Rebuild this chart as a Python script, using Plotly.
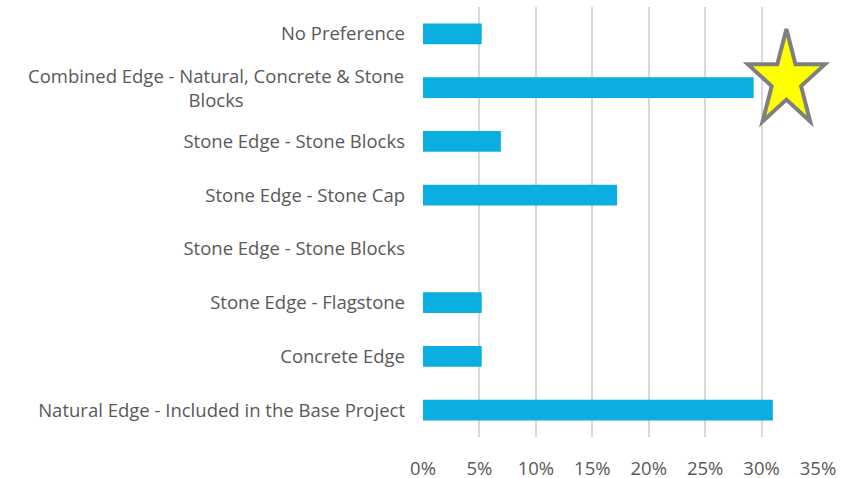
import math
import plotly.graph_objects as go

categories = [
    "No Preference",
    "Combined Edge - Natural, Concrete & Stone<br>Blocks",
    "Stone Edge - Stone Blocks",
    "Stone Edge - Stone Cap",
    "Stone Edge - Stone Blocks",
    "Stone Edge - Flagstone",
    "Concrete Edge",
    "Natural Edge - Included in the Base Project",
]
values = [5.2, 29.3, 6.9, 17.2, 0.0, 5.2, 5.2, 31.0]
x_ticks = [0, 5, 10, 15, 20, 25, 30, 35]
x_tick_labels = ["0%", "5%", "10%", "15%", "20%", "25%", "30%", "35%"]
star_category_index = 1
star_x_value = 32.2

FONT = "Open Sans"
FSIZE = 18.5
TEXT_COLOR = "#595959"
BAR_COLOR = "#0AAEE0"

positions = list(range(len(categories)))
tick_text = ["" if "<br>" in c else c for c in categories]
X_MAX = 35.0

fig = go.Figure()
fig.add_trace(go.Bar(
    x=values, y=positions, orientation="h",
    marker=dict(color=BAR_COLOR, line=dict(width=0)),
    hoverinfo="x+y",
))

# Plot geometry (pixels)
W, H = 861, 478
ml, mr, mt, mb = 423, 43, 7, 41
pw, ph = W - ml - mr, H - mt - mb

# decorative star (slightly vertically stretched, like the reference), in paper coords
cx = star_x_value / X_MAX
cy = 1 - (star_category_index + 0.5) / len(categories) + 7.5 / ph
Rx, Ry = 40.5, 51.0
inner = 0.382
pts = []
for k in range(10):
    ang = -math.pi / 2 + k * math.pi / 5
    r = 1.0 if k % 2 == 0 else inner
    dx = r * Rx * math.cos(ang) / pw
    dy = -r * Ry * math.sin(ang) / ph
    pts.append((cx + dx, cy + dy))
path = "M " + " L ".join(f"{a:.5f},{b:.5f}" for a, b in pts) + " Z"
fig.add_shape(type="path", path=path, xref="paper", yref="paper",
              fillcolor="#FFFF00", line=dict(color="#7F7F7F", width=4), layer="above")

for i, c in enumerate(categories):
    if "<br>" in c:
        fig.add_annotation(text=c, x=0, xref="paper", y=i, yref="y",
                           xanchor="right", yanchor="middle", xshift=-17,
                           align="center", showarrow=False,
                           font=dict(family=FONT, size=FSIZE, color=TEXT_COLOR))

fig.update_layout(
    width=W, height=H,
    margin=dict(l=ml, r=mr, t=mt, b=mb, pad=0, autoexpand=False),
    paper_bgcolor="white", plot_bgcolor="white",
    bargap=0.61, showlegend=False,
    font=dict(family=FONT, size=FSIZE, color=TEXT_COLOR),
    xaxis=dict(range=[0, X_MAX], tickvals=x_ticks, ticktext=x_tick_labels,
               showgrid=True, gridcolor="#D9D9D9", gridwidth=2,
               zeroline=False, showline=False, ticks="", automargin=False,
               ticklabelstandoff=18, fixedrange=True),
    yaxis=dict(range=[len(categories) - 0.5, -0.5], tickvals=positions,
               ticktext=tick_text, showgrid=False, zeroline=False, automargin=False,
               showline=False, ticks="", ticklabelstandoff=17, fixedrange=True),
)

fig.write_html("out.html", config={"displayModeBar": False},
               post_script="document.body.style.margin='0';document.body.style.overflow='hidden';")
